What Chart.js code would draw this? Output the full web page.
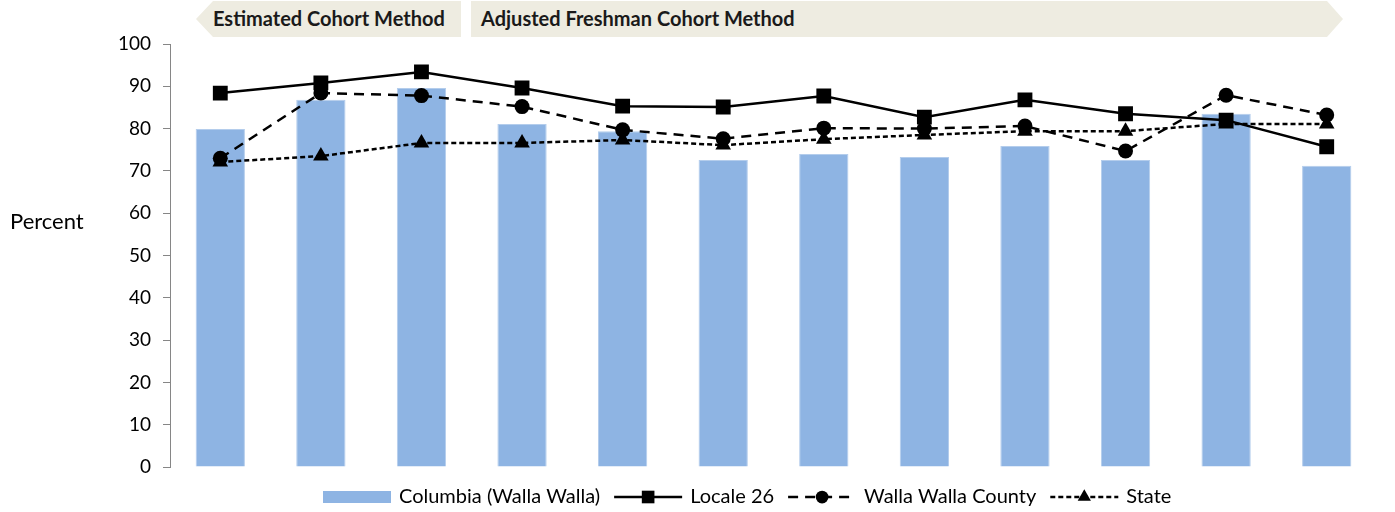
<!DOCTYPE html>
<html>
<head>
<meta charset="utf-8">
<script src="https://cdn.jsdelivr.net/npm/chart.js@4.4.1/dist/chart.umd.min.js"></script>
<style>
    body { margin: 0; background: #fff; }
    #wrap { position: relative; width: 1395px; height: 512px; font-family: Lato, "Open Sans", sans-serif; }
    .banner { position: absolute; top: 1px; height: 36px; line-height: 35px; background: #EEECE1;
              font-weight: bold; font-size: 20px; color: #1a1a1a; box-sizing: border-box; white-space: nowrap; }
    #b1 { left: 196px; width: 265px; padding-left: 17px;
          clip-path: polygon(17px 0, 100% 0, 100% 100%, 17px 100%, 0 50%); }
    #b2 { left: 471px; width: 872px; padding-left: 10px;
          clip-path: polygon(0 0, calc(100% - 16px) 0, 100% 50%, calc(100% - 16px) 100%, 0 100%); }
    #ylab { position: absolute; left: 10px; top: 207px; font-size: 22px; color: #000; }
    canvas { position: absolute; left: 0; top: 0; }
</style>
</head>
<body>
<div id="wrap">
    <canvas id="gradChart" width="1395" height="512"></canvas>
    <div class="banner" id="b1">Estimated Cohort Method</div>
    <div class="banner" id="b2">Adjusted Freshman Cohort Method</div>
    <div id="ylab">Percent</div>
</div>
<script>
// 12 cohort years (no labels shown on the axis)
const categories = ['Y1', 'Y2', 'Y3', 'Y4', 'Y5', 'Y6', 'Y7', 'Y8', 'Y9', 'Y10', 'Y11', 'Y12'];
const columbia = [79.9, 86.8, 89.6, 81.1, 79.4, 72.6, 74.0, 73.3, 75.9, 72.6, 83.5, 71.2];
const locale26 = [88.4, 90.8, 93.4, 89.6, 85.3, 85.1, 87.7, 82.7, 86.8, 83.5, 82.0, 75.7];
const county = [73.0, 88.4, 87.8, 85.2, 79.7, 77.6, 80.1, 80.0, 80.6, 74.7, 87.9, 83.2];
const state = [72.1, 73.5, 76.6, 76.6, 77.3, 76.1, 77.5, 78.5, 79.4, 79.4, 81.1, 81.1];
const yTicks = [0, 10, 20, 30, 40, 50, 60, 70, 80, 90, 100];

const FONT = 'Lato, "Open Sans", sans-serif';
const axisGrey = '#868686';

// legend drawn under the plot: wide box for the bars, line + marker for the lines
const bottomLegend = {
    id: 'bottomLegend',
    afterDraw(chart) {
        const ctx = chart.ctx;
        const y = 497;
        const sampleW = 68;
        let x = 323;
        ctx.save();
        ctx.font = '20px ' + FONT;
        ctx.textBaseline = 'middle';
        chart.data.datasets.forEach(ds => {
            if (ds.type === 'bar') {
                ctx.fillStyle = ds.backgroundColor;
                ctx.fillRect(x, y - 6, sampleW, 12);
            } else {
                ctx.strokeStyle = ds.borderColor;
                ctx.lineWidth = ds.borderWidth;
                ctx.setLineDash(ds.borderDash || []);
                ctx.beginPath();
                ctx.moveTo(x, y);
                ctx.lineTo(x + sampleW, y);
                ctx.stroke();
                ctx.setLineDash([]);
                ctx.fillStyle = ds.pointBackgroundColor;
                Chart.helpers.drawPoint(ctx, {
                    pointStyle: ds.pointStyle, radius: ds.pointRadius * 0.85, rotation: 0, borderWidth: 0
                }, x + sampleW / 2, y);
            }
            x += sampleW + 8;
            ctx.fillStyle = '#000';
            ctx.fillText(ds.label, x, y);
            x += ctx.measureText(ds.label).width + 14;
        });
        ctx.restore();
    }
};

const ctx = document.getElementById('gradChart').getContext('2d');
new Chart(ctx, {
    data: {
        labels: categories,
        datasets: [
            {
                type: 'bar',
                label: 'Columbia (Walla Walla)',
                data: columbia,
                backgroundColor: '#8EB4E3',
                borderColor: '#B4CDEC',
                borderWidth: 1,
                barPercentage: 0.49,
                categoryPercentage: 1,
                order: 4
            },
            {
                type: 'line',
                label: 'Locale 26',
                data: locale26,
                borderColor: '#000',
                borderWidth: 2.5,
                pointStyle: 'rect',
                pointRadius: 10.5,
                pointBackgroundColor: '#000',
                pointBorderWidth: 0,
                tension: 0,
                order: 1
            },
            {
                type: 'line',
                label: 'Walla Walla County',
                data: county,
                borderColor: '#000',
                borderWidth: 2.5,
                borderDash: [10, 7],
                pointStyle: 'circle',
                pointRadius: 7.5,
                pointBackgroundColor: '#000',
                pointBorderWidth: 0,
                tension: 0,
                order: 2
            },
            {
                type: 'line',
                label: 'State',
                data: state,
                borderColor: '#000',
                borderWidth: 2.5,
                borderDash: [5, 3],
                pointStyle: 'triangle',
                pointRadius: 9,
                pointBackgroundColor: '#000',
                pointBorderWidth: 0,
                tension: 0,
                order: 3
            }
        ]
    },
    options: {
        responsive: false,
        animation: false,
        layout: { padding: { top: 44, bottom: 45, left: 0, right: 18 } },
        plugins: {
            legend: { display: false },
            tooltip: { enabled: false }
        },
        scales: {
            x: { display: false },
            y: {
                min: 0,
                max: 100,
                afterBuildTicks: scale => { scale.ticks = yTicks.map(v => ({ value: v })); },
                afterFit: scale => { scale.width = 170; },
                ticks: { color: '#000', padding: 12, font: { family: FONT, size: 19 } },
                grid: { drawOnChartArea: false, drawTicks: true, tickLength: 7, color: axisGrey },
                border: { color: axisGrey, width: 1 }
            }
        }
    },
    plugins: [bottomLegend]
});
</script>
</body>
</html>
